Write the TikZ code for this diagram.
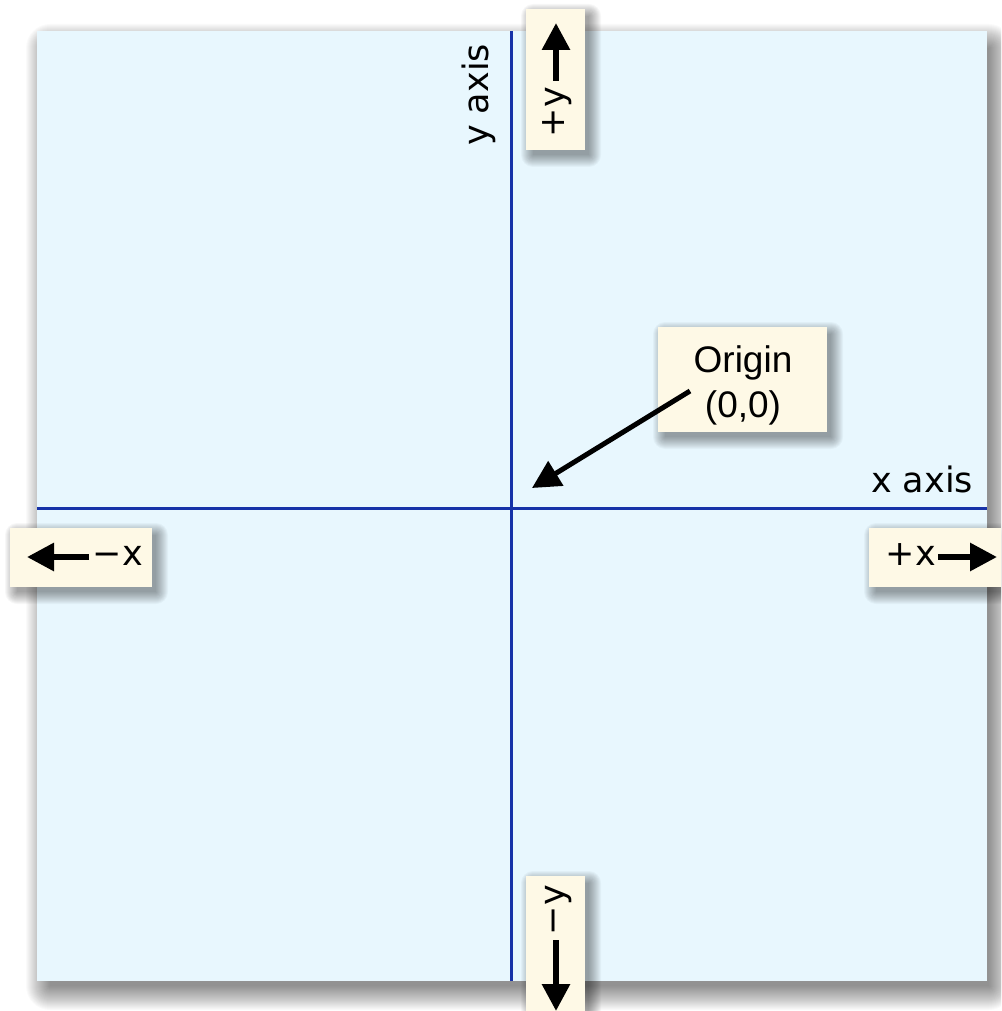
\documentclass[tikz,border=0pt]{standalone}
\usepackage{fontspec}
\setmainfont{DejaVu Sans}
\newfontfamily\calloutfont{Liberation Sans}
\usetikzlibrary{arrows.meta}

\definecolor{planefill}{RGB}{232,247,254}
\definecolor{cardfill}{RGB}{254,249,230}
\definecolor{axisblue}{RGB}{22,50,168}

% soft shadow: stacked translucent rectangles around (#1,#2)-(#3,#4), spread #5, step #6, opacity #7
\newcommand\softshade[7]{%
  \foreach \r in {0,#6,...,#5}{%
    \fill[black,opacity=#7,rounded corners=\r pt]
      ({#1-\r},{#2-\r}) rectangle ({#3+\r},{#4+\r});
  }}

\tikzset{
  card/.style={fill=cardfill, inner sep=0pt, outer sep=0pt},
  axislabel/.style={font=\fontsize{35}{42}\selectfont, inner sep=0pt},
  dirlabel/.style={font=\fontsize{35}{42}\selectfont, inner sep=0pt, anchor=base},
  dirarrow/.style={line width=6pt, -{Triangle[length=27pt,width=27pt]}},
  axisline/.style={draw=axisblue, line width=3pt},
}

\begin{document}
\begin{tikzpicture}[x=1pt,y=-1pt]
  \useasboundingbox (0,0) rectangle (1001,1011);
  \clip (0,0) rectangle (1001,1011);
  \fill[white] (0,0) rectangle (1001,1011);

  % coordinate plane with its shadow
  \softshade{50}{48}{989}{986}{24}{1}{0.021}
  \node[fill=planefill, inner sep=0pt, minimum width=950pt, minimum height=950pt] (plane) at (512,506) {};

  % axes
  \coordinate (xl) at (37,508);
  \coordinate (xr) at (987,508);
  \coordinate (yt) at (511,31);
  \coordinate (yb) at (511,981);
  \draw[axisline] (xl) -- (xr);
  \draw[axisline] (yt) -- (yb);

  \node[axislabel, anchor=base] (xlab) at (922,492) {x axis};
  \node[axislabel, anchor=base, rotate=90] (ylab) at (488,95) {y axis};

  % +y card
  \softshade{533}{16}{589}{155}{12}{1}{0.03}
  \node[card, minimum width=59pt, minimum height=141pt] (pycard) at (555.5,79.5) {};
  \node[dirlabel, rotate=90] (pytext) at (564,112) {+y};
  \coordinate (pyfrom) at (556,81);
  \coordinate (pyto) at (556,23);
  \draw[dirarrow] (pyfrom) -- (pyto);

  % -y card
  \softshade{533}{883}{589}{1022}{12}{1}{0.03}
  \node[card, minimum width=59pt, minimum height=141pt] (mycard) at (555.5,946.5) {};
  \node[dirlabel, rotate=90] (mytext) at (564,910) {−y};
  \coordinate (myfrom) at (556,940);
  \coordinate (myto) at (556,1011);
  \draw[dirarrow] (myfrom) -- (myto);

  % -x card
  \softshade{17}{535}{156}{592}{12}{1}{0.03}
  \node[card, minimum width=142pt, minimum height=59pt] (mxcard) at (81,557.5) {};
  \node[dirlabel] (mxtext) at (118,565) {−x};
  \coordinate (mxfrom) at (89,557);
  \coordinate (mxto) at (27,557);
  \draw[dirarrow] (mxfrom) -- (mxto);

  % +x card
  \softshade{876}{535}{1015}{592}{12}{1}{0.03}
  \node[card, minimum width=142pt, minimum height=59pt] (pxcard) at (940,557.5) {};
  \node[dirlabel] (pxtext) at (911,565) {+x};
  \coordinate (pxfrom) at (938,557);
  \coordinate (pxto) at (997,557);
  \draw[dirarrow] (pxfrom) -- (pxto);

  % origin callout
  \softshade{665}{334}{831}{437}{12}{1}{0.03}
  \node[card, minimum width=169pt, minimum height=105pt] (ocard) at (742.5,379.5) {};
  \node[font=\calloutfont\fontsize{37}{45}\selectfont, inner sep=0pt, anchor=base] (otext1) at (743,372) {Origin};
  \node[font=\calloutfont\fontsize{37}{45}\selectfont, inner sep=0pt, anchor=base] (otext2) at (743,417) {(0,0)};
  \coordinate (ofrom) at (690,391);
  \coordinate (oto) at (532,488);
  \draw[line width=5pt, -{Triangle[length=28pt,width=28pt]}] (ofrom) -- (oto);
\end{tikzpicture}
\end{document}
